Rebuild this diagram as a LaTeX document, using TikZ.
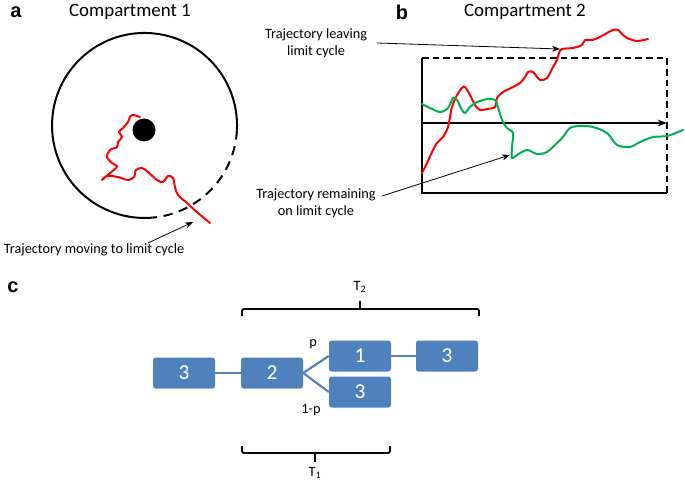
\documentclass[tikz,border=0pt]{standalone}
\usepackage{fontspec}
\setmainfont{Carlito}
\newfontfamily\panelfont{Liberation Sans}
\usetikzlibrary{arrows.meta}
\definecolor{boxblue}{RGB}{79,129,189}
\definecolor{trajgreen}{RGB}{0,176,80}

\begin{document}
\begin{tikzpicture}[x=0.75pt,y=-0.75pt,
	stage/.style={rounded corners=2pt,fill=boxblue,text=white,minimum width=46.5pt,minimum height=23.25pt,inner sep=0pt,font=\fontsize{16}{18}\selectfont},
	link/.style={boxblue,line width=1.6pt},
	traj/.style={line width=1.5pt,line join=round,line cap=round},
	pointer/.style={-{Stealth[length=6pt,width=4.5pt]},line width=0.6pt},
	lbl/.style={font=\fontsize{10.7}{13}\selectfont,align=center,inner sep=1pt},
	panel/.style={font=\panelfont\fontsize{15}{18}\bfseries},
	ttl/.style={font=\fontsize{14.2}{17}\selectfont}]
	\useasboundingbox (0,0) rectangle (685,481);

	% panel a
	\node[panel] (pa) at (16,12) {a};
	\node[ttl] (ta) at (130,12) {Compartment 1};
	\draw[line width=1.5pt] (236.9,130.3) arc[start angle=3,end angle=-275,radius=92.5];
	\draw[line width=1.5pt,dash pattern=on 7pt off 5pt] (236.9,130.3) arc[start angle=3,end angle=85,radius=92.5];
	\fill (144,130) circle[radius=11.5];
	\draw[traj,red] plot[smooth,tension=0.55] coordinates {(140,117) (133,115) (130,117) (128,122) (123,128) (119,132) (122,137) (118,142) (117,147) (110,150) (107,157) (112,163) (117,166) (115,169) (110,173) (102,180) (107,176) (118,177) (128,180) (134,177) (136,170) (142,168) (148,172) (157,180) (163,182) (168,176) (173,178) (175,187) (178,195) (187,203) (198,213) (210,223)};
	\node[lbl] (mov) at (94,250) {Trajectory moving to limit cycle};
	\coordinate (movTail) at (148,243);
	\coordinate (movTip) at (193,222);
	\draw[pointer] (movTail) -- (movTip);

	% panel b
	\node[panel] (pb) at (402,12) {b};
	\node[ttl] (tb) at (525,12) {Compartment 2};
	\draw[line width=1.5pt] (422,58) -- (422,193) -- (667,193);
	\draw[line width=1.5pt,dash pattern=on 5pt off 3pt] (422,58) -- (667,58) -- (667,193);
	\draw[line width=1.5pt,-{Stealth[length=7pt,width=5pt]}] (422,123) -- (667,123);
	\draw[traj,red] plot[smooth,tension=0.5] coordinates {(422,173) (427,163) (432,152) (437,143) (443,137) (448,127) (452,107) (457,95) (462,88) (465,87) (470,95) (475,105) (480,110) (487,109) (495,107) (497,98) (503,92) (513,87) (520,83) (525,77) (528,72) (533,72) (540,80) (547,78) (553,67) (557,60) (559,53) (562,49) (573,48) (582,45) (585,40) (592,40) (600,37) (607,33) (613,30) (618,30) (623,35) (627,38) (637,41) (648,39)};
	\draw[traj,trajgreen] plot[smooth,tension=0.5] coordinates {(422,104) (430,108) (440,112) (448,108) (453,98) (457,100) (462,110) (465,113) (470,107) (477,102) (488,99) (495,100) (498,107) (502,120) (507,128) (513,133) (512,147) (512,158) (517,155) (527,150) (537,154) (547,152) (557,143) (563,137) (570,128) (580,126) (593,127) (607,133) (617,145) (630,147) (640,142) (653,137) (667,136) (683,130)};
	\node[lbl] (leave) at (316,43) {Trajectory leaving\\limit cycle};
	\coordinate (leaveTail) at (377,43);
	\coordinate (leaveTip) at (560,49);
	\draw[pointer] (leaveTail) -- (leaveTip);
	\node[lbl] (stay) at (316,203) {Trajectory remaining\\on limit cycle};
	\coordinate (stayTail) at (382,196);
	\coordinate (stayTip) at (510,155);
	\draw[pointer] (stayTail) -- (stayTip);

	% panel c
	\node[panel] (pc) at (13,287) {c};
	\node[stage] (s0) at (184,373) {3};
	\node[stage] (s1) at (272,373) {2};
	\node[stage] (s2) at (360,356) {1};
	\node[stage] (s3) at (360,392) {3};
	\node[stage] (s4) at (447,356) {3};
	\draw[link] (s0) -- (s1);
	\draw[link] (s1.east) -- (s2.west);
	\draw[link] (s1.east) -- (s3.west);
	\draw[link] (s2) -- (s4);
	\node[lbl] (pUp) at (313,344) {p};
	\node[lbl] (pDn) at (311,410) {1-p};
	% time brackets
	\draw[line width=1.4pt,rounded corners=1.5pt] (242,316) -- (242,309) -- (479,309) -- (479,316);
	\draw[line width=1.4pt] (360,309) -- (360,301);
	\node[lbl] (T2) at (360,287) {T\textsubscript{2}};
	\draw[line width=1.4pt,rounded corners=1.5pt] (242,446) -- (242,453) -- (390,453) -- (390,446);
	\draw[line width=1.4pt] (315,453) -- (315,462);
	\node[lbl] (T1) at (315,473) {T\textsubscript{1}};
\end{tikzpicture}
\end{document}
